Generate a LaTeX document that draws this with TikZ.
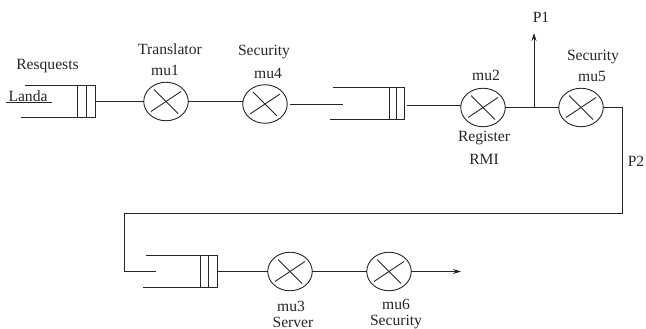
\documentclass[tikz,border=0pt]{standalone}
\usepackage{fontspec}
\setmainfont{Liberation Serif}
\usetikzlibrary{shapes.geometric,arrows.meta}
\definecolor{ink}{HTML}{262626}
\tikzset{
  diagram/.style={x=1pt,y=-1pt,color=ink,line width=0.9pt},
  server/.style={ellipse,draw=ink,line width=0.9pt,minimum width=44.5pt,minimum height=38.5pt,inner sep=0pt,outer sep=0pt},
  cell/.style={rectangle,minimum height=32pt,inner sep=0pt,outer sep=0pt},
  lbl/.style={text=ink,inner sep=0pt,font=\fontsize{15.6}{15.6}\selectfont,anchor=center},
  arr/.style={-{Stealth[length=8pt,width=5pt]}}
}
\newcommand{\crossin}[1]{
  \draw (#1.center)+(-12,-12) -- +(12,12);
  \draw (#1.center)+(-15,10) -- +(15,-10);
}
\begin{document}
\begin{tikzpicture}[diagram]
\clip (0,0) rectangle (646,329);
% servers
\node[server] (m1) at (166,101.5) {};
\node[server] (m4) at (265,104) {};
\node[server] (m2) at (483,107.5) {};
\node[server] (m5) at (581,107.5) {};
\node[server] (m3) at (290,271.5) {};
\node[server] (m6) at (389,271.5) {};
\crossin{m1}\crossin{m4}\crossin{m2}\crossin{m5}\crossin{m3}\crossin{m6}
% queues
\node[cell,minimum width=18pt] (q1) at (86,101.5) {};
\node[cell,minimum width=15pt] (q2) at (396.5,103.5) {};
\node[cell,minimum width=17pt] (q3) at (208.5,271.5) {};
\coordinate (q1t) at (25,85.5); \coordinate (q1b) at (21,117.5);
\coordinate (q2t) at (333,87.5); \coordinate (q2b) at (330,119.5);
\coordinate (q3t) at (146,255.5); \coordinate (q3b) at (143,287.5);
\draw (q1t) -- (q1.north east) -- (q1.south east) -- (q1b);
\draw (q1.north west) -- (q1.south west);
\draw (q1.north) -- (q1.south);
\draw (q2t) -- (q2.north east) -- (q2.south east) -- (q2b);
\draw (q2.north west) -- (q2.south west);
\draw (q2.north) -- (q2.south);
\draw (q3t) -- (q3.north east) -- (q3.south east) -- (q3b);
\draw (q3.north west) -- (q3.south west);
\draw (q3.north) -- (q3.south);
% connectors
\coordinate (in1) at (6,102); \coordinate (in1e) at (52,102);
\draw (in1) -- (in1e);
\draw (q1.east) -- (m1.west);
\draw (m1.east) -- (m1.east -| m4.west);
\coordinate (in2s) at (290,104); \coordinate (in2e) at (343,104);
\draw (in2s) -- (in2e);
\coordinate (q2o) at (407,105);
\draw (q2o) -- (q2o -| m2.west);
\draw (m2.east) -- (m5.west);
\coordinate (b1) at (534,107.5); \coordinate (p1end) at (534,33);
\draw[arr] (b1) -- (p1end);
\coordinate (c2) at (622,213);
\coordinate (c3) at (124,213); \coordinate (c4) at (124,271.5); \coordinate (c5) at (156,271.5);
\draw (m5.east) -- (m5.east -| c2) -- (c2) -- (c3) -- (c4) -- (c5);
\draw (q3.east) -- (m3.west);
\draw (m3.east) -- (m6.west);
\coordinate (out) at (461,271.5);
\draw[arr] (m6.east) -- (out);
% labels
\node[lbl] (t1) at (47.5,66) {Resquests};
\node[lbl] (t2) at (28,96) {Landa};
\node[lbl] (t3) at (170,49) {Translator};
\node[lbl] (t4) at (165,70.5) {mu1};
\node[lbl] (t5) at (264,52) {Security};
\node[lbl] (t6) at (268,73) {mu4};
\node[lbl] (t7) at (486,75) {mu2};
\node[lbl] (t8) at (484,138) {Register};
\node[lbl] (t9) at (484,159) {RMI};
\node[lbl] (t10) at (593,57) {Security};
\node[lbl] (t11) at (592,76.5) {mu5};
\node[lbl] (t12) at (541,17) {P1};
\node[lbl] (t13) at (636,161) {P2};
\node[lbl] (t14) at (291,306) {mu3};
\node[lbl] (t15) at (293,322) {Server};
\node[lbl] (t16) at (396,304) {mu6};
\node[lbl] (t17) at (396,322) {Security};
\end{tikzpicture}
\end{document}
